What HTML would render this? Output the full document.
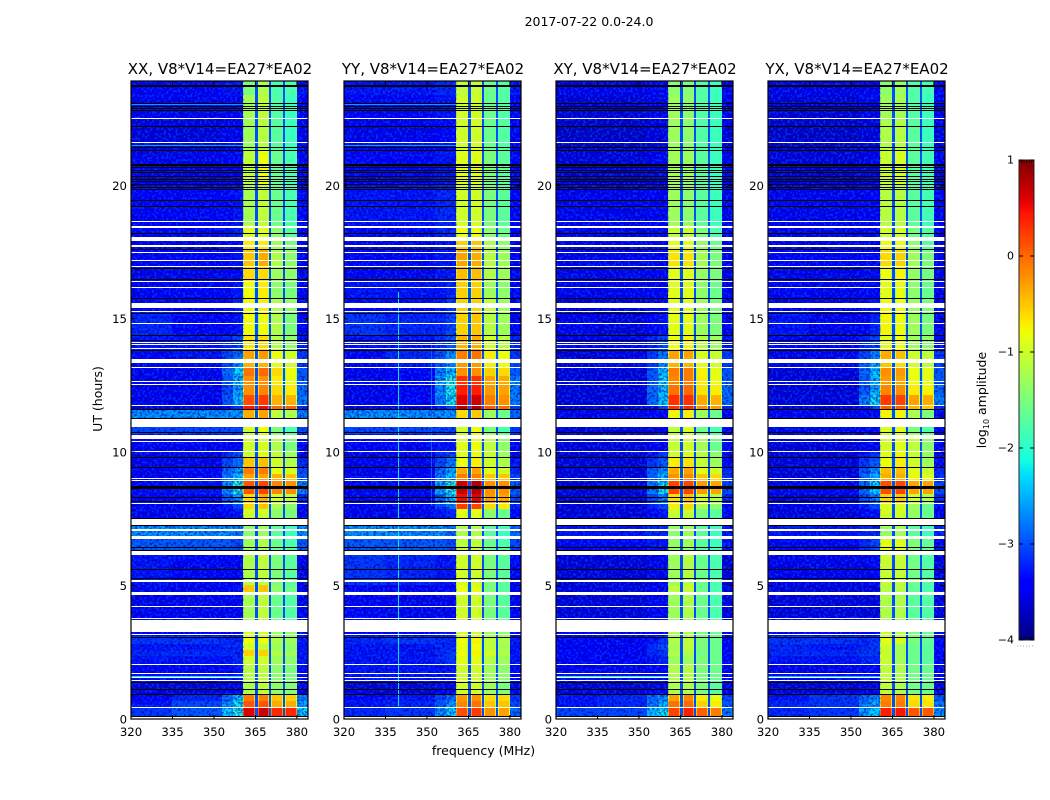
<!DOCTYPE html>
<html lang="en">
<head>
<meta charset="utf-8">
<title>2017-07-22 amplitude spectrogram</title>
<style>
html,body{margin:0;padding:0;background:#fff;}
svg{display:block;font-family:"DejaVu Sans","Liberation Sans",sans-serif;fill:#000;}
</style>
</head>
<body>
<svg id="chart" xmlns="http://www.w3.org/2000/svg" width="1050" height="800" viewBox="0 0 1050 800">
  <defs>
    <filter id="speckle" x="0" y="0" width="1" height="1" color-interpolation-filters="sRGB">
      <feTurbulence type="fractalNoise" baseFrequency="0.42" numOctaves="1" seed="7" result="n"/>
      <feColorMatrix in="n" type="matrix" values="0 0 0 0 0  0 0 0 0 0.28  0 0 0 0 1  8 0 0 0 -4.1" result="light"/>
      <feColorMatrix in="n" type="matrix" values="0 0 0 0 0  0 0 0 0 0  0 0 0 0 0.6  0 8 0 0 -3.9" result="dark"/>
      <feMerge><feMergeNode in="dark"/><feMergeNode in="light"/></feMerge>
    </filter>
    <linearGradient id="jet-gradient" x1="0" y1="1" x2="0" y2="0"></linearGradient>
  </defs>
  <text x="589" y="26" font-size="12.5" text-anchor="middle">2017-07-22 0.0-24.0</text>
  <text x="483.5" y="755" font-size="12.5" text-anchor="middle">frequency (MHz)</text>
  <text x="102" y="399" font-size="12.5" text-anchor="middle" transform="rotate(-90 102 399)">UT (hours)</text>
  <g id="panels"></g>
  <g id="colorbar"></g>
  <text x="986" y="400" font-size="12.5" text-anchor="middle" transform="rotate(-90 986 400)">log<tspan font-size="8" dy="3">10</tspan><tspan dy="-3"> amplitude</tspan></text>
</svg>
<script>
// ---- chart data ----
const panelTitles = ["XX, V8*V14=EA27*EA02", "YY, V8*V14=EA27*EA02", "XY, V8*V14=EA27*EA02", "YX, V8*V14=EA27*EA02"];
const xTickValues = [320, 335, 350, 365, 380];
const yTickValues = [0, 5, 10, 15, 20];
const colorTickValues = [-4, -3, -2, -1, 0, 1];
// Frequency limits of each heatmap column (MHz)
const freqEdges = [320, 335, 353, 356.8, 360.5, 365, 365.8, 370, 370.8, 374.9, 375.7, 380, 384];
// Which heatmap columns are the four bright bands
const bandColumns = [4, 6, 8, 10];
// UT limits of each heatmap row (hours)
const timeEdges = [0,.12,.41,.67,.94,1.46,2.06,2.36,2.59,2.81,3.11,3.67,4.76,5.02,6.15,6.78,7.27,7.5,7.87,8.1,8.43,8.92,9.2,9.45,9.77,10.01,10.68,11.28,11.58,11.77,12.14,12.52,12.85,13.19,13.45,13.83,14.39,15.29,15.78,16.38,16.98,17.58,18.07,18.52,20.01,21.33,22.45,23.39,23.91];
// log10 amplitude by row: bgA, bgB, ramp1, ramp2, band1, band2, band3, band4, outer
const levelsXX = [
[-3.4,-3.4,-3.2,-3.0,-1.0,-1.0,-1.2,-1.2,-3.0],
[-3.1,-2.9,-2.3,-2.0,.6,.65,.35,.35,-2.3],
[-3.3,-3.0,-2.6,-2.2,.1,.1,-.35,-.35,-2.5],
[-3.4,-3.2,-2.8,-2.4,-.1,-.1,-.5,-.55,-2.7],
[-3.6,-3.6,-3.5,-3.5,-1.2,-1.1,-1.4,-1.45,-3.5],
[-3.4,-3.4,-3.4,-3.3,-1.15,-1.1,-1.4,-1.5,-3.4],
[-3.3,-3.3,-3.3,-3.2,-1.0,-1.0,-1.3,-1.4,-3.3],
[-3.2,-3.2,-3.2,-3.2,-.55,-.55,-1.2,-1.3,-3.3],
[-3.3,-3.3,-3.2,-3.2,-1.0,-1.1,-1.3,-1.4,-3.3],
[-3.1,-3.1,-3.2,-3.2,-.8,-.8,-1.2,-1.3,-3.3],
[-3.4,-3.4,-3.4,-3.4,-1.0,-1.0,-1.3,-1.4,-3.4],
[-3.5,-3.5,-3.5,-3.5,-1.25,-1.1,-1.6,-1.75,-3.5],
[-3.5,-3.5,-3.4,-3.3,-.5,-.5,-1.4,-1.6,-3.5],
[-3.3,-3.4,-3.4,-3.4,-1.2,-1.1,-1.5,-1.7,-3.5],
[-2.9,-2.9,-2.9,-3.0,-1.3,-1.2,-1.6,-1.8,-2.9],
[-2.6,-2.6,-2.6,-2.7,-1.4,-1.3,-1.7,-1.9,-2.6],
[-3.4,-3.4,-3.4,-3.3,-.9,-.9,-1.4,-1.6,-3.4],
[-3.5,-3.5,-3.4,-3.3,-1.0,-1.0,-1.4,-1.5,-3.5],
[-3.5,-3.5,-3.3,-3.0,-.6,-.5,-1.2,-1.4,-3.4],
[-3.4,-3.4,-2.9,-2.6,-.6,-.35,-1.0,-1.1,-3.2],
[-3.4,-3.3,-2.6,-2.1,.1,.2,-.15,-.2,-2.7],
[-3.5,-3.4,-2.7,-2.3,-.3,-.3,-.4,-.5,-2.9],
[-3.5,-3.4,-2.8,-2.5,-.1,-.1,-.85,-.95,-3.0],
[-3.5,-3.5,-3.0,-2.8,-.5,-.45,-1.0,-1.15,-3.2],
[-3.5,-3.5,-3.2,-3.0,-1.0,-.9,-1.1,-1.3,-3.4],
[-3.4,-3.4,-3.4,-3.4,-1.0,-.95,-1.2,-1.5,-3.4],
[-3.0,-3.0,-3.0,-3.0,-1.0,-.8,-1.5,-1.8,-3.0],
[-2.6,-2.6,-2.6,-2.6,-.35,-.3,-1.1,-1.2,-2.7],
[-3.6,-3.6,-3.4,-3.1,.45,.5,.0,.05,-3.2],
[-3.5,-3.5,-2.9,-2.4,.15,.25,-.4,-.4,-2.7],
[-3.5,-3.5,-3.0,-2.5,-.2,-.15,-.6,-.7,-2.8],
[-3.5,-3.5,-2.9,-2.4,-.2,-.2,-.7,-.85,-2.9],
[-3.5,-3.5,-2.8,-2.3,-.05,0,-.6,-.8,-2.9],
[-3.5,-3.4,-3.0,-2.6,-.4,-.4,-.9,-1.0,-3.1],
[-3.4,-3.3,-3.0,-2.8,-.3,-.25,-.8,-1.0,-3.1],
[-3.3,-3.3,-3.2,-3.0,-.65,-.6,-1.2,-1.4,-3.3],
[-3.2,-3.4,-3.4,-3.3,-.8,-.8,-1.2,-1.5,-3.4],
[-3.4,-3.4,-3.4,-3.2,-.75,-.7,-1.2,-1.4,-3.4],
[-3.4,-3.4,-3.4,-3.3,-.8,-.7,-1.4,-1.5,-3.4],
[-3.5,-3.5,-3.4,-3.4,-.6,-.6,-1.3,-1.4,-3.4],
[-3.4,-3.4,-3.4,-3.3,-.5,-.35,-1.2,-1.4,-3.4],
[-3.5,-3.5,-3.4,-3.4,-.7,-.7,-1.3,-1.5,-3.4],
[-3.4,-3.4,-3.3,-3.2,-.9,-.9,-1.4,-1.7,-3.4],
[-3.4,-3.4,-3.4,-3.3,-1.25,-1.1,-1.6,-1.8,-3.4],
[-3.5,-3.5,-3.4,-3.4,-1.1,-.8,-1.6,-1.8,-3.4],
[-3.6,-3.6,-3.5,-3.5,-1.3,-1.15,-1.7,-1.9,-3.5],
[-3.5,-3.5,-3.4,-3.4,-1.25,-1.1,-1.75,-1.9,-3.4],
[-3.4,-3.4,-3.3,-3.3,-1.5,-1.2,-1.8,-1.8,-3.3]
];
const levelsYY = [
[-3.4,-3.4,-3.2,-3.0,-1.0,-1.0,-1.2,-1.2,-3.1],
[-3.2,-3.1,-2.6,-2.3,.15,.25,-.2,-.3,-2.8],
[-3.3,-3.2,-2.9,-2.6,-.15,-.05,-.5,-.5,-3.0],
[-3.4,-3.3,-3.0,-2.8,-.25,-.2,-.6,-.6,-3.1],
[-3.6,-3.6,-3.5,-3.5,-1.0,-1.0,-1.3,-1.5,-3.5],
[-3.3,-3.3,-3.3,-3.3,-1.0,-1.0,-1.3,-1.4,-3.4],
[-3.3,-3.3,-3.2,-3.1,-.85,-.85,-1.15,-1.3,-3.3],
[-3.3,-3.3,-3.2,-3.1,-.8,-.75,-1.0,-1.2,-3.3],
[-3.3,-3.3,-3.2,-3.2,-.85,-.8,-1.1,-1.25,-3.3],
[-3.2,-3.1,-3.2,-3.2,-.8,-.75,-1.1,-1.2,-3.3],
[-3.4,-3.4,-3.3,-3.3,-1.0,-1.0,-1.3,-1.4,-3.4],
[-3.4,-3.5,-3.5,-3.5,-1.0,-1.0,-1.5,-1.7,-3.5],
[-3.4,-3.5,-3.4,-3.4,-.8,-.85,-1.5,-1.7,-3.5],
[-3.1,-3.2,-3.3,-3.3,-1.0,-1.0,-1.5,-1.7,-3.4],
[-2.9,-2.9,-2.9,-3.0,-1.1,-1.1,-1.6,-1.8,-3.0],
[-2.6,-2.6,-2.6,-2.8,-1.2,-1.2,-1.7,-1.9,-2.8],
[-3.4,-3.4,-3.3,-3.2,-.9,-.9,-1.4,-1.6,-3.4],
[-3.5,-3.5,-3.3,-3.2,-.85,-.9,-1.4,-1.6,-3.4],
[-3.5,-3.5,-3.0,-2.7,.25,.2,-.6,-.7,-3.2],
[-3.4,-3.4,-2.8,-2.4,.5,.55,-.25,-.3,-3.0],
[-3.4,-3.4,-2.5,-2.0,.7,.8,-.2,-.2,-2.9],
[-3.5,-3.4,-2.7,-2.4,-.1,-.1,-.5,-.5,-3.0],
[-3.5,-3.4,-2.8,-2.5,-.35,-.3,-.9,-1.0,-3.2],
[-3.5,-3.5,-3.0,-2.7,-.8,-.7,-1.0,-1.2,-3.3],
[-3.5,-3.5,-3.2,-3.0,-.9,-.85,-1.05,-1.3,-3.4],
[-3.4,-3.4,-3.3,-3.3,-.9,-.8,-1.1,-1.4,-3.4],
[-3.0,-3.0,-3.0,-3.0,-1.0,-.8,-1.5,-1.8,-3.1],
[-2.6,-2.6,-2.6,-2.6,-.6,-.5,-1.3,-1.6,-2.8],
[-3.6,-3.6,-3.3,-3.0,.8,.8,.1,0,-3.1],
[-3.5,-3.4,-2.7,-2.2,.6,.65,-.1,-.2,-2.7],
[-3.5,-3.4,-2.6,-2.1,.4,.4,-.25,-.3,-2.7],
[-3.5,-3.4,-2.5,-2.1,.3,.3,-.3,-.35,-2.7],
[-3.5,-3.4,-2.7,-2.3,-.2,-.2,-.55,-.6,-2.9],
[-3.5,-3.3,-2.9,-2.5,-.25,-.25,-.7,-.8,-3.0],
[-3.4,-3.2,-2.9,-2.6,-.1,-.05,-.7,-.8,-3.1],
[-3.3,-3.3,-3.1,-2.9,-.4,-.35,-1.0,-1.15,-3.2],
[-3.1,-3.2,-3.2,-3.0,-.55,-.5,-1.15,-1.3,-3.4],
[-3.4,-3.4,-3.3,-3.1,-.55,-.55,-1.1,-1.3,-3.4],
[-3.3,-3.3,-3.3,-3.2,-.55,-.55,-1.3,-1.4,-3.4],
[-3.4,-3.5,-3.3,-3.3,-.45,-.45,-1.2,-1.3,-3.4],
[-3.4,-3.4,-3.3,-3.3,-.3,-.35,-1.15,-1.3,-3.4],
[-3.4,-3.5,-3.3,-3.3,-.55,-.5,-1.2,-1.4,-3.4],
[-3.4,-3.4,-3.2,-3.2,-.8,-.8,-1.4,-1.6,-3.4],
[-3.3,-3.3,-3.2,-3.2,-1.0,-1.0,-1.5,-1.7,-3.4],
[-3.4,-3.4,-3.3,-3.3,-.9,-.9,-1.5,-1.7,-3.4],
[-3.5,-3.5,-3.4,-3.4,-1.0,-1.0,-1.6,-1.75,-3.5],
[-3.4,-3.4,-3.3,-3.3,-1.0,-1.0,-1.6,-1.75,-3.4],
[-3.3,-3.3,-3.2,-3.2,-1.1,-1.05,-1.6,-1.75,-3.3]
];
const levelsXY = [
[-3.4,-3.4,-3.2,-3.1,-1.2,-1.2,-1.4,-1.4,-3.1],
[-3.0,-3.0,-2.4,-2.2,.2,.4,.05,-.1,-2.7],
[-3.3,-3.2,-2.7,-2.4,-.05,0,-.55,-.7,-2.9],
[-3.3,-3.2,-2.8,-2.6,-.3,-.15,-.7,-.8,-3.0],
[-3.6,-3.6,-3.5,-3.5,-1.2,-1.2,-1.5,-1.7,-3.5],
[-3.5,-3.5,-3.4,-3.4,-1.2,-1.15,-1.5,-1.6,-3.5],
[-3.4,-3.4,-3.3,-3.2,-1.3,-1.3,-1.5,-1.6,-3.4],
[-3.4,-3.4,-3.2,-3.1,-1.2,-1.2,-1.55,-1.6,-3.4],
[-3.4,-3.4,-3.2,-3.0,-1.25,-1.1,-1.5,-1.6,-3.4],
[-3.4,-3.4,-3.3,-3.1,-1.2,-1.1,-1.5,-1.6,-3.4],
[-3.5,-3.5,-3.4,-3.4,-1.2,-1.2,-1.5,-1.6,-3.5],
[-3.6,-3.6,-3.5,-3.5,-1.3,-1.2,-1.6,-1.8,-3.6],
[-3.6,-3.6,-3.5,-3.5,-1.1,-1.05,-1.6,-1.8,-3.6],
[-3.6,-3.6,-3.5,-3.5,-1.3,-1.15,-1.6,-1.8,-3.6],
[-3.4,-3.4,-3.3,-3.3,-1.35,-1.3,-1.7,-1.9,-3.3],
[-3.3,-3.3,-3.2,-3.2,-1.4,-1.3,-1.7,-1.9,-3.3],
[-3.6,-3.6,-3.5,-3.4,-1.0,-1.0,-1.5,-1.7,-3.5],
[-3.6,-3.6,-3.4,-3.3,-1.05,-1.05,-1.5,-1.7,-3.5],
[-3.6,-3.6,-3.2,-3.0,-.7,-.6,-1.2,-1.4,-3.4],
[-3.6,-3.6,-3.0,-2.7,-.6,-.45,-1.0,-1.2,-3.2],
[-3.6,-3.6,-2.7,-2.2,.2,.2,-.25,-.3,-3.0],
[-3.6,-3.6,-2.8,-2.4,-.2,-.15,-.5,-.6,-3.1],
[-3.6,-3.6,-2.9,-2.6,-.35,-.3,-.9,-1.0,-3.2],
[-3.6,-3.6,-3.1,-2.9,-.7,-.65,-1.05,-1.3,-3.4],
[-3.6,-3.6,-3.3,-3.1,-1.0,-.95,-1.15,-1.4,-3.4],
[-3.6,-3.6,-3.5,-3.5,-1.05,-1.0,-1.25,-1.6,-3.5],
[-3.6,-3.6,-3.5,-3.5,-1.1,-.95,-1.6,-1.8,-3.5],
[-3.5,-3.5,-3.4,-3.4,-.75,-.7,-1.3,-1.6,-3.5],
[-3.6,-3.6,-3.4,-3.0,.3,.35,-.2,-.25,-3.2],
[-3.6,-3.6,-2.8,-2.3,.3,.3,-.35,-.4,-2.8],
[-3.6,-3.6,-2.8,-2.4,-.05,0,-.65,-.7,-2.8],
[-3.6,-3.6,-2.9,-2.3,-.15,-.1,-.7,-.8,-2.9],
[-3.6,-3.6,-2.9,-2.4,-.1,-.1,-.75,-.85,-2.9],
[-3.6,-3.5,-3.1,-2.6,-.4,-.4,-.9,-1.0,-3.1],
[-3.6,-3.5,-3.1,-2.7,-.3,-.3,-.95,-1.05,-3.1],
[-3.5,-3.5,-3.2,-3.0,-.8,-.75,-1.15,-1.3,-3.3],
[-3.5,-3.6,-3.4,-3.3,-.85,-.85,-1.3,-1.5,-3.5],
[-3.6,-3.6,-3.5,-3.4,-.85,-.85,-1.3,-1.5,-3.5],
[-3.5,-3.5,-3.4,-3.4,-.9,-.9,-1.4,-1.6,-3.5],
[-3.5,-3.5,-3.4,-3.4,-.85,-.9,-1.35,-1.5,-3.5],
[-3.5,-3.5,-3.4,-3.4,-.65,-.65,-1.25,-1.5,-3.5],
[-3.5,-3.5,-3.4,-3.4,-.85,-.85,-1.35,-1.6,-3.5],
[-3.5,-3.5,-3.4,-3.4,-1.05,-1.05,-1.5,-1.8,-3.5],
[-3.5,-3.5,-3.4,-3.4,-1.3,-1.4,-1.7,-1.9,-3.5],
[-3.6,-3.6,-3.5,-3.5,-1.25,-1.3,-1.7,-1.9,-3.5],
[-3.7,-3.7,-3.6,-3.6,-1.3,-1.4,-1.75,-1.9,-3.6],
[-3.6,-3.6,-3.5,-3.5,-1.3,-1.4,-1.75,-1.9,-3.5],
[-3.5,-3.5,-3.4,-3.4,-1.4,-1.45,-1.75,-1.9,-3.4]
];
const levelsYX = [
[-3.4,-3.4,-3.2,-3.1,-1.2,-1.2,-1.4,-1.4,-3.1],
[-3.2,-3.1,-2.5,-2.3,.4,.45,.1,.1,-2.6],
[-3.2,-3.1,-2.7,-2.5,-.1,-.1,-.6,-.65,-2.7],
[-3.3,-3.1,-2.8,-2.6,-.15,-.15,-.65,-.7,-2.9],
[-3.6,-3.6,-3.5,-3.5,-1.1,-1.2,-1.55,-1.6,-3.5],
[-3.5,-3.5,-3.4,-3.4,-1.1,-1.2,-1.55,-1.6,-3.5],
[-3.3,-3.3,-3.2,-3.2,-1.05,-1.25,-1.6,-1.7,-3.4],
[-3.2,-3.2,-3.1,-3.1,-1.05,-1.25,-1.6,-1.7,-3.4],
[-3.2,-3.3,-3.2,-3.1,-1.05,-1.25,-1.6,-1.7,-3.4],
[-3.1,-3.1,-3.2,-3.1,-.85,-.95,-1.5,-1.65,-3.4],
[-3.4,-3.4,-3.4,-3.4,-1.1,-1.1,-1.5,-1.6,-3.5],
[-3.6,-3.6,-3.6,-3.6,-1.2,-1.2,-1.7,-1.75,-3.6],
[-3.6,-3.6,-3.6,-3.6,-1.15,-1.15,-1.65,-1.8,-3.6],
[-3.5,-3.5,-3.5,-3.4,-1.05,-1.05,-1.55,-1.75,-3.6],
[-3.4,-3.4,-3.2,-3.0,-.85,-.9,-1.45,-1.65,-3.4],
[-3.3,-3.3,-3.2,-3.2,-1.35,-1.25,-1.7,-1.9,-3.2],
[-3.5,-3.5,-3.4,-3.4,-1.0,-1.0,-1.5,-1.7,-3.5],
[-3.6,-3.6,-3.4,-3.3,-1.0,-1.0,-1.35,-1.6,-3.5],
[-3.5,-3.5,-3.2,-3.0,-.95,-.95,-1.3,-1.6,-3.4],
[-3.6,-3.6,-3.0,-2.7,-.55,-.5,-1.0,-1.2,-3.2],
[-3.4,-3.4,-2.8,-2.3,.15,.18,-.3,-.3,-3.0],
[-3.6,-3.6,-2.8,-2.4,-.35,-.35,-.75,-.9,-3.1],
[-3.6,-3.6,-2.9,-2.6,-.45,-.45,-.9,-1.05,-3.2],
[-3.6,-3.6,-3.1,-2.9,-.8,-.7,-1.0,-1.3,-3.4],
[-3.6,-3.6,-3.3,-3.1,-.85,-.75,-1.05,-1.35,-3.4],
[-3.6,-3.6,-3.5,-3.5,-1.0,-.9,-1.1,-1.4,-3.5],
[-3.5,-3.5,-3.4,-3.4,-.95,-.85,-1.5,-1.75,-3.5],
[-3.5,-3.5,-3.4,-3.4,-.75,-.75,-1.2,-1.5,-3.5],
[-3.6,-3.6,-3.4,-3.0,.05,.05,-.4,-.5,-3.2],
[-3.6,-3.6,-2.7,-2.2,.25,.2,-.3,-.35,-2.7],
[-3.6,-3.6,-2.9,-2.4,-.15,-.2,-.7,-.75,-2.8],
[-3.6,-3.6,-2.9,-2.4,-.25,-.3,-.8,-.85,-2.9],
[-3.6,-3.6,-2.8,-2.3,-.2,-.25,-.8,-.85,-2.9],
[-3.5,-3.5,-2.9,-2.5,-.5,-.6,-1.0,-1.1,-3.0],
[-3.5,-3.4,-3.0,-2.7,-.35,-.45,-1.0,-1.1,-3.1],
[-3.4,-3.4,-3.2,-3.0,-.9,-.8,-1.3,-1.4,-3.3],
[-3.3,-3.5,-3.4,-3.2,-.75,-.8,-1.3,-1.5,-3.5],
[-3.5,-3.5,-3.4,-3.3,-.75,-.8,-1.3,-1.5,-3.5],
[-3.4,-3.5,-3.4,-3.4,-.9,-.85,-1.4,-1.6,-3.5],
[-3.5,-3.5,-3.4,-3.4,-.8,-.75,-1.35,-1.55,-3.5],
[-3.4,-3.4,-3.4,-3.4,-.6,-.55,-1.3,-1.5,-3.5],
[-3.5,-3.5,-3.4,-3.4,-.8,-.8,-1.4,-1.7,-3.5],
[-3.5,-3.5,-3.4,-3.4,-1.0,-1.0,-1.55,-1.75,-3.5],
[-3.5,-3.5,-3.4,-3.4,-1.15,-1.15,-1.7,-1.85,-3.5],
[-3.6,-3.6,-3.5,-3.5,-1.05,-.95,-1.7,-1.85,-3.5],
[-3.7,-3.7,-3.6,-3.6,-1.2,-1.15,-1.7,-1.9,-3.6],
[-3.6,-3.6,-3.5,-3.5,-1.3,-1.25,-1.75,-1.9,-3.5],
[-3.5,-3.5,-3.4,-3.4,-1.4,-1.3,-1.75,-1.85,-3.4]
];
const panelLevels = [levelsXX, levelsYY, levelsXY, levelsYX];
// Level of the narrow notches between the four bright bands
const notchLevels = [-3.0, -3.0, -3.0, -3.0];
// Flagged (no data) intervals [start UT, end UT]
const flaggedIntervals = [[0,.07],[.41,.45],[1.42,1.46],[1.52,1.57],[1.69,1.72],[2.02,2.06],[3.15,3.19],[3.26,3.67],[3.67,3.71],[3.75,3.79],[4.2,4.24],[4.65,4.76],[5.13,5.21],[6.15,6.3],[6.75,6.86],[7.06,7.12],[7.27,7.5],[8.06,8.1],[8.92,8.96],[9,9.03],[10.01,10.04],[10.38,10.42],[10.48,10.66],[10.94,11.26],[11.73,11.77],[12.5,12.56],[12.63,12.67],[13.16,13.19],[13.34,13.49],[13.89,13.92],[14,14.04],[14.09,14.13],[14.81,14.84],[15.25,15.29],[15.4,15.59],[16.15,16.19],[16.38,16.42],[16.94,16.98],[17.17,17.2],[17.47,17.51],[17.69,17.77],[17.92,18.07],[18.4,18.48],[18.61,18.67],[21.59,21.63],[22.49,22.53]];
// Dropped integrations (near-zero amplitude), UT
const droppedTimes = [.12,.94,1.12,1.39,3.08,5.28,5.62,6.33,6.45,7.27,7.53,8.18,8.31,8.65,8.69,8.73,9.43,9.81,10.77,11.28,11.61,13.83,14.22,14.38,15.23,15.77,16.48,16.9,17.62,18.2,19.23,19.45,19.85,19.95,20.04,20.15,20.24,20.35,20.5,20.58,20.7,20.77,20.81,21.33,21.45,22.23,22.84,22.88,22.98,23.09,23.71,23.75];
// Narrow horizontal streaks: panel index, UT, level
const streakPanels = [0, 0, 1, 1, 0, 2, 3];
const streakTimes = [23.03, 21.5, 23.03, 21.5, 1.62, 1.62, 1.62];
const streakLevels = [-2.6, -2.6, -2.6, -2.6, -2.2, -2.1, -2.4];
// Narrow vertical RFI spurs: panel index, MHz, start UT, end UT, level
const spurPanels = [1, 1];
const spurFreqs = [339.5, 351.5];
const spurStarts = [.5, 8];
const spurEnds = [16, 14];
const spurLevels = [-2.25, -2.9];

// ---- axis geometry ----
const NS = "http://www.w3.org/2000/svg";
const panelLefts = [131, 344, 556, 768];
const panelWidth = 177, plotTop = 81, plotBottom = 719;
const freqMin = 320, freqMax = 384, timeMin = 0, timeMax = 23.91;
const barLeft = 1019, barWidth = 15, barTop = 160, barBottom = 640, levelMin = -4, levelMax = 1;
function xAxis(panel, f) { return panelLefts[panel] + (f - freqMin) / (freqMax - freqMin) * panelWidth; }
function yAxis(t) { return plotBottom - (t - timeMin) / (timeMax - timeMin) * (plotBottom - plotTop); }
function yColor(v) { return barBottom - (v - levelMin) / (levelMax - levelMin) * (barBottom - barTop); }
function lerpStops(t, stops) {
  if (t <= stops[0][0]) return stops[0][1];
  for (let i = 1; i < stops.length; i++) {
    if (t <= stops[i][0]) {
      const a = stops[i - 1], b = stops[i];
      return a[1] + (b[1] - a[1]) * (t - a[0]) / (b[0] - a[0]);
    }
  }
  return stops[stops.length - 1][1];
}
function jet(v) {
  const t = Math.max(0, Math.min(1, (v - levelMin) / (levelMax - levelMin)));
  const r = lerpStops(t, [[.35, 0], [.66, 1], [.89, 1], [1, .5]]);
  const g = lerpStops(t, [[.125, 0], [.375, 1], [.64, 1], [.91, 0]]);
  const b = lerpStops(t, [[0, .5], [.11, 1], [.34, 1], [.65, 0]]);
  return "rgb(" + Math.round(r * 255) + "," + Math.round(g * 255) + "," + Math.round(b * 255) + ")";
}
function shape(tag, parent, attrs) {
  const el = document.createElementNS(NS, tag);
  for (const k in attrs) el.setAttribute(k, attrs[k]);
  parent.appendChild(el);
  return el;
}
function expandRow(row, notch) {
  return [row[0], row[1], row[2], row[3], row[4], notch, row[5], notch, row[6], notch, row[7], row[8]];
}

// ---- panels ----
const panelsRoot = document.getElementById("panels");
panelTitles.forEach(function (title, p) {
  const g = shape("g", panelsRoot, {});
  
  
  const left = panelLefts[p], right = left + panelWidth;

  const titleEl = shape("text", g, { x: left + panelWidth / 2 + 0.5, y: 74, "font-size": 15, "text-anchor": "middle" });
  titleEl.textContent = title;
  
  

  // heatmap cells
  panelLevels[p].forEach(function (row, r) {
    const vals = expandRow(row, notchLevels[p]);
    const y0 = Math.round(yAxis(timeEdges[r + 1])), y1 = Math.round(yAxis(timeEdges[r]));
    vals.forEach(function (v, c) {
      const x0 = Math.round(xAxis(p, freqEdges[c])), x1 = Math.round(xAxis(p, freqEdges[c + 1]));
      const isBand = bandColumns.indexOf(c) >= 0;
      // hot bands roll off at their edges, so the full-width cell is drawn cooler
      const rim = isBand && v > -0.9 ? v - 0.5 : v;
      const cell = shape("rect", g, { x: x0, y: y0, width: x1 - x0, height: y1 - y0, fill: jet(rim), "shape-rendering": "crispEdges" });
      
      
      if (rim !== v) {
        const core = shape("rect", g, { x: x0 + 1, y: y0, width: x1 - x0 - 2, height: y1 - y0, fill: jet(v), "shape-rendering": "crispEdges" });
        
        
      }
    });
  });

  // pixel-grain texture over the low-amplitude regions (decorative only)
  const grainA = shape("rect", g, { x: left, y: plotTop, width: xAxis(p, 360.5) - left, height: plotBottom - plotTop, filter: "url(#speckle)", opacity: .6 });
  
  
  const grainB = shape("rect", g, { x: Math.round(xAxis(p, 380)), y: plotTop, width: right - Math.round(xAxis(p, 380)), height: plotBottom - plotTop, filter: "url(#speckle)", opacity: .6 });
  
  

  // spurs
  spurPanels.forEach(function (sp, i) {
    if (sp !== p) return;
    const yA = Math.round(yAxis(spurEnds[i])), yB = Math.round(yAxis(spurStarts[i]));
    const spur = shape("rect", g, { x: Math.round(xAxis(p, spurFreqs[i])), y: yA, width: 1, height: yB - yA, fill: jet(spurLevels[i]), "shape-rendering": "crispEdges" });
    
    
  });

  // streaks
  streakPanels.forEach(function (sp, i) {
    if (sp !== p) return;
    const streak = shape("rect", g, { x: left, y: Math.round(yAxis(streakTimes[i])), width: xAxis(p, 360.5) - left, height: 1, fill: jet(streakLevels[i]), "shape-rendering": "crispEdges" });
    
    
  });

  // dropped integrations
  droppedTimes.forEach(function (t) {
    const line = shape("rect", g, { x: left, y: Math.round(yAxis(t)), width: panelWidth, height: 1, fill: "#000", "shape-rendering": "crispEdges" });
    
    
  });

  // flagged intervals
  flaggedIntervals.forEach(function (iv) {
    const yA = Math.round(yAxis(iv[1])), yB = Math.round(yAxis(iv[0]));
    const band = shape("rect", g, { x: left, y: yA, width: panelWidth, height: Math.max(1, yB - yA), fill: "#fff", "shape-rendering": "crispEdges" });
    
    
  });

  // frame
  const frame = shape("rect", g, { x: left, y: plotTop, width: panelWidth, height: plotBottom - plotTop, fill: "none", stroke: "#000", "stroke-width": 1.2 });
  
  

  // x ticks
  xTickValues.forEach(function (f) {
    const x = xAxis(p, f);
    const tickB = shape("line", g, { x1: x, x2: x, y1: plotBottom, y2: plotBottom - 4, stroke: "#000", "stroke-width": 1 });
    
    
    const tickT = shape("line", g, { x1: x, x2: x, y1: plotTop, y2: plotTop + 4, stroke: "#000", "stroke-width": 1 });
    
    
    const lab = shape("text", g, { x: x, y: 736, "font-size": 11.7, "text-anchor": "middle" });
    lab.textContent = f;
    
    
  });

  // y ticks
  yTickValues.forEach(function (t) {
    const y = yAxis(t);
    const tickL = shape("line", g, { x1: left, x2: left + 4, y1: y, y2: y, stroke: "#000", "stroke-width": 1 });
    
    
    const tickR = shape("line", g, { x1: right, x2: right - 4, y1: y, y2: y, stroke: "#000", "stroke-width": 1 });
    
    
    const lab = shape("text", g, { x: left - 4, y: y + 4.5, "font-size": 11.7, "text-anchor": "end" });
    lab.textContent = t;
    
    
  });
});

// ---- colorbar ----
const grad = document.getElementById("jet-gradient");
for (let i = 0; i <= 64; i++) {
  shape("stop", grad, { offset: (i / 64), "stop-color": jet(levelMin + (levelMax - levelMin) * i / 64) });
}
const cb = document.getElementById("colorbar");
const barFill = shape("rect", cb, { x: barLeft, y: barTop, width: barWidth, height: barBottom - barTop, fill: "url(#jet-gradient)", stroke: "#222", "stroke-width": 1 });


colorTickValues.forEach(function (v) {
  const y = yColor(v);
  const tickL = shape("line", cb, { x1: barLeft, x2: barLeft + 4, y1: y, y2: y, stroke: "#000", "stroke-width": 1 });
  
  
  const tickR = shape("line", cb, { x1: barLeft + barWidth, x2: barLeft + barWidth - 4, y1: y, y2: y, stroke: "#000", "stroke-width": 1 });
  
  
  const lab = shape("text", cb, { x: barLeft - 5, y: y + 3.5, "font-size": 11, "text-anchor": "end" });
  lab.textContent = v < 0 ? "\u2212" + Math.abs(v) : String(v);
  
  
});
for (let i = 1; i <= 5; i++) {
  const mx = barLeft + i * barWidth / 6;
  const minorTop = shape("line", cb, { x1: mx, x2: mx, y1: barTop, y2: barTop + 3, stroke: "#000", "stroke-width": .7 });
  
  
  const minorBottom = shape("line", cb, { x1: mx, x2: mx, y1: barBottom, y2: barBottom - 3, stroke: "#000", "stroke-width": .7 });
  
  
}
const dots = shape("line", cb, { x1: 1017, x2: 1035, y1: 646, y2: 646, stroke: "#aaa", "stroke-width": 1, "stroke-dasharray": "1 2" });


</script>
</body>
</html>
